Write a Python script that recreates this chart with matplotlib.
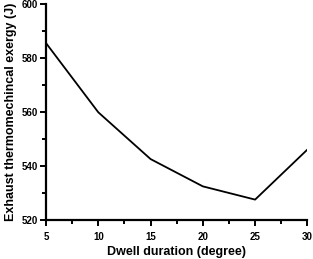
import matplotlib
matplotlib.use('Agg')
import matplotlib.pyplot as plt
from matplotlib.ticker import MultipleLocator

plt.rcParams['font.family'] = ['Liberation Sans', 'DejaVu Sans']

dwell = [5, 10, 15, 20, 25, 30]
exergy = [585.5, 559.9, 542.6, 532.5, 527.6, 546.1]

fig = plt.figure(figsize=(3.13, 2.59), dpi=100)
ax = fig.add_axes([0.147, 0.150, 0.835, 0.835])
ax.plot(dwell, exergy, color='black', lw=1.3)

ax.set_xlim(5, 30)
ax.set_ylim(520, 600)
ax.xaxis.set_major_locator(MultipleLocator(5))
ax.xaxis.set_minor_locator(MultipleLocator(2.5))
ax.yaxis.set_major_locator(MultipleLocator(20))
ax.yaxis.set_minor_locator(MultipleLocator(10))

for s in ['top', 'right']:
    ax.spines[s].set_visible(False)
for s in ['left', 'bottom']:
    ax.spines[s].set_linewidth(1.6)

ax.tick_params(which='major', direction='out', length=4.5, width=1.4, labelsize=7)
ax.tick_params(axis='x', which='major', pad=4)
ax.tick_params(axis='y', which='major', pad=1.5)
ax.tick_params(which='minor', direction='out', length=3, width=1.4)
for lab in ax.get_xticklabels() + ax.get_yticklabels():
    lab.set_fontweight('bold')

ax.set_xlabel('Dwell duration (degree)', fontsize=9, fontweight='bold', labelpad=3)
ax.set_ylabel('Exhaust thermomechincal exergy (J)', fontsize=9, fontweight='bold', labelpad=3)

fig.savefig('out.png', dpi=100)
